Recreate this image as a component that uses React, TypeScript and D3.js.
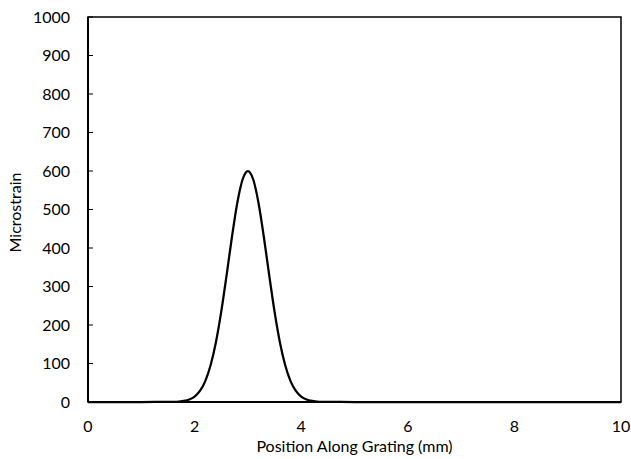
import React from "react";
import * as d3 from "d3";

const positions = [0, 1.0, 1.5, 1.6, 1.7, 1.8, 1.9, 2.0, 2.1, 2.2, 2.3, 2.4, 2.5, 2.6, 2.7, 2.8, 2.9, 3.0, 3.1, 3.2, 3.3, 3.4, 3.5, 3.6, 3.7, 3.8, 3.9, 4.0, 4.1, 4.2, 4.3, 4.4, 4.5, 5.0, 10];
const microstrain = [0, 0, 0.1, 0.4, 1.1, 2.7, 6.4, 14.1, 28.7, 54.3, 95.4, 155.4, 234.8, 329.1, 428.0, 516.4, 577.9, 600, 577.9, 516.4, 428.0, 329.1, 234.8, 155.4, 95.4, 54.3, 28.7, 14.1, 6.4, 2.7, 1.1, 0.4, 0.1, 0, 0];
const xTicks = [0, 2, 4, 6, 8, 10];
const yTicks = [0, 100, 200, 300, 400, 500, 600, 700, 800, 900, 1000];

const W = 631, H = 459;
const left = 88, right = 621, top = 17, bottom = 402;
const font = "Lato, 'Open Sans', sans-serif";

export default function App() {
  const x = d3.scaleLinear().domain([0, 10]).range([left, right]);
  const y = d3.scaleLinear().domain([0, 1000]).range([bottom, top]);
  const pts = positions.map((p, i) => [p, microstrain[i]] as [number, number]);
  const line = d3.line<[number, number]>().x(d => x(d[0])).y(d => y(d[1])).curve(d3.curveMonotoneX);
  return (
    <svg width={W} height={H} style={{ position: "absolute", left: 0, top: 0, background: "#fff" }}>
      <rect x={left} y={top} width={right - left} height={bottom - top} fill="none" stroke="#000" strokeWidth={1.5} />
      {yTicks.map(t => (
        <g key={t}>
          <line x1={left} x2={left + 5} y1={y(t)} y2={y(t)} stroke="#000" strokeWidth={1} />
          <text x={70} y={y(t)} dy="0.36em" textAnchor="end" fontFamily={font} fontSize={16} fill="#000">{t}</text>
        </g>
      ))}
      {xTicks.map(t => (
        <text key={t} x={x(t)} y={432} textAnchor="middle" fontFamily={font} fontSize={16} fill="#000">{t}</text>
      ))}
      <path d={line(pts) ?? ""} fill="none" stroke="#000" strokeWidth={2.25} strokeLinejoin="round" />
      <line x1={left} x2={left} y1={top} y2={bottom} stroke="#000" strokeWidth={2} />
      <line x1={left} x2={right} y1={bottom} y2={bottom} stroke="#000" strokeWidth={2} />
      <text x={(left + right) / 2} y={452} textAnchor="middle" fontFamily={font} fontSize={16} fill="#000">Position Along Grating (mm)</text>
      <text transform={`translate(21,${(top + bottom) / 2 + 3}) rotate(-90)`} textAnchor="middle" fontFamily={font} fontSize={16} fill="#000">Microstrain</text>
    </svg>
  );
}
